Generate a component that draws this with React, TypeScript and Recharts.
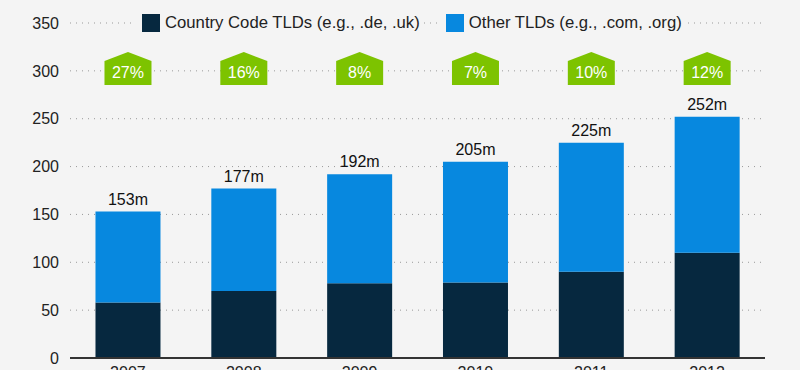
import React from "react";
import {
  Bar,
  BarChart,
  CartesianGrid,
  LabelList,
  Legend,
  XAxis,
  YAxis,
} from "recharts";

const years = ["2007", "2008", "2009", "2010", "2011", "2012"];
const countryCode = [58, 70, 78, 79, 90, 110];
const totals = [153, 177, 192, 205, 225, 252];
const growth = ["27%", "16%", "8%", "7%", "10%", "12%"];
const yTicks = [0, 50, 100, 150, 200, 250, 300, 350];

const data = years.map((year, i) => ({
  year,
  cc: countryCode[i],
  other: totals[i] - countryCode[i],
  total: totals[i],
  growth: growth[i],
}));

const FONT = "'Liberation Sans', Arial, sans-serif";
const NAVY = "#06283f";
const BLUE = "#0788df";
const GREEN = "#7dc300";
const BG = "#f4f4f4";

function Badge(props: any) {
  const { x, width, value } = props;
  const cx = Number(x) + Number(width) / 2;
  const half = 23.5;
  const top = 52;
  const shoulder = 61;
  const bottom = 85;
  const pts = [
    [cx - half, bottom],
    [cx - half, shoulder],
    [cx, top],
    [cx + half, shoulder],
    [cx + half, bottom],
  ]
    .map((p) => p.join(","))
    .join(" ");
  return (
    <g>
      <polygon points={pts} fill={GREEN} />
      <text
        x={cx}
        y={78}
        textAnchor="middle"
        fill="#fff"
        fontSize={16}
        fontFamily={FONT}
      >
        {value}
      </text>
    </g>
  );
}

const legendItems = [
  { label: "Country Code TLDs (e.g., .de, .uk)", color: NAVY },
  { label: "Other TLDs (e.g., .com, .org)", color: BLUE },
];

function LegendContent() {
  return (
    <div style={{ display: "flex", fontFamily: FONT, fontSize: 16.7, color: "#222" }}>
      {legendItems.map((item, i) => (
        <span
          key={item.label}
          style={{
            display: "flex",
            alignItems: "center",
            background: BG,
            paddingLeft: 8,
            paddingRight: 4,
            marginRight: i === 0 ? 14 : 0,
            height: 22,
            whiteSpace: "nowrap",
          }}
        >
          <span
            style={{
              display: "inline-block",
              width: 18,
              height: 18,
              background: item.color,
              marginRight: 5,
            }}
          />
          {item.label}
        </span>
      ))}
    </div>
  );
}

export default function App() {
  return (
    <div style={{ position: "absolute", left: 0, top: 0, background: BG }}>
      <BarChart
        width={800}
        height={370}
        data={data}
        margin={{ top: 23, right: 35, left: 0, bottom: 0 }}
        barCategoryGap="22%"
      >
        <CartesianGrid
          vertical={false}
          stroke="#999"
          strokeDasharray="1 5"
        />
        <XAxis
          dataKey="year"
          height={12}
          tickLine={false}
          tickMargin={3}
          axisLine={{ stroke: "#333", strokeWidth: 2 }}
          tick={{ fontSize: 16, fill: "#222", fontFamily: FONT }}
        />
        <YAxis
          width={70}
          domain={[0, 350]}
          ticks={yTicks}
          axisLine={false}
          tickLine={false}
          tickMargin={5}
          tick={{ fontSize: 16, fill: "#222", fontFamily: FONT }}
        />
        <Legend
          verticalAlign="middle"
          wrapperStyle={{ top: 12, left: 134, width: "auto" }}
          content={<LegendContent />}
        />
        <Bar dataKey="cc" stackId="a" fill={NAVY} isAnimationActive={false} />
        <Bar dataKey="other" stackId="a" fill={BLUE} isAnimationActive={false}>
          <LabelList
            dataKey="total"
            position="top"
            offset={7}
            formatter={(v: any) => `${v}m`}
            style={{ fontSize: 16, fill: "#111", fontFamily: FONT }}
          />
          <LabelList dataKey="growth" content={<Badge />} />
        </Bar>
      </BarChart>
    </div>
  );
}
